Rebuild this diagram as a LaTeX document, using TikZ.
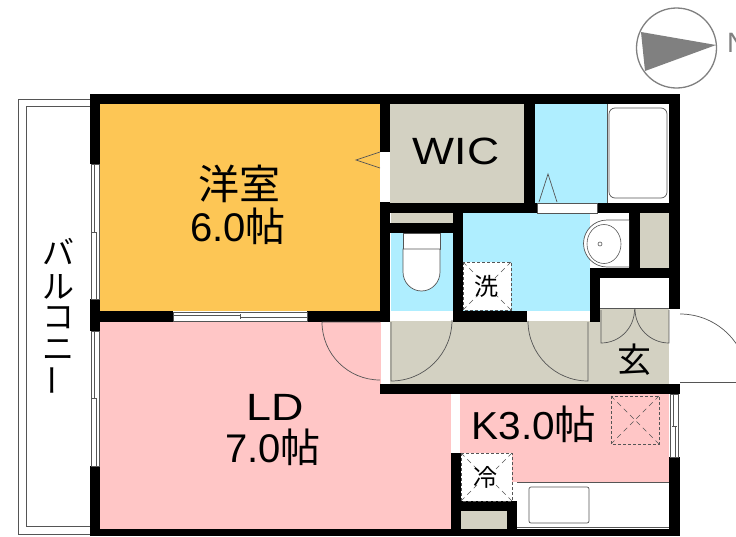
\documentclass[tikz,border=0pt]{standalone}
\usepackage{fontspec}
\setmainfont{Liberation Sans}
\newfontfamily\cjk{Noto Sans CJK JP}
\definecolor{yoshitsu}{HTML}{FDC655}
\definecolor{pinkroom}{HTML}{FFC6C6}
\definecolor{khaki}{HTML}{D3D1C2}
\definecolor{wet}{HTML}{AFEEFF}
\definecolor{linec}{HTML}{555555}
\tikzset{
  wall/.style={fill=black,draw=none},
  fixture/.style={draw=linec,line width=0.7pt,fill=white},
  doorline/.style={draw=linec,line width=0.7pt},
  thinline/.style={draw=linec,line width=0.6pt},
  dashbox/.style={draw=linec,line width=0.8pt,dash pattern=on 3pt off 2pt,fill=white},
  crossline/.style={draw=linec,line width=0.5pt,dash pattern=on 5pt off 4pt},
  txt/.style={inner sep=0pt,text=black,align=center},
}
\newcommand{\jpf}[1]{\cjk\fontsize{#1}{#1}\selectfont}
\newcommand{\enf}[1]{\fontsize{#1}{#1}\selectfont}
\begin{document}
\begin{tikzpicture}[x=1pt,y=-1pt]
\useasboundingbox (0,0) rectangle (736,536);
\clip (0,0) rectangle (736,536);
% balcony
\draw[thinline,fill=white] (90,99) -- (18,99) -- (18,534) -- (90,534);
\draw[thinline] (90,106) -- (26,106) -- (26,526) -- (90,526);
% rooms
\fill[yoshitsu] (100,104) rectangle (380,311);
\fill[pinkroom] (100,321) rectangle (381,384);
\fill[pinkroom] (100,384) rectangle (451,529);
\fill[pinkroom] (460,394) rectangle (669,482);
\fill[khaki] (390,104) rectangle (524,203);
\fill[wet] (535,104) rectangle (607,203);
\fill[khaki] (391,213) rectangle (453,223);
\fill[wet] (391,233) rectangle (453,311);
\fill[wet] (463,213) rectangle (590,311);
\fill[khaki] (640,213) rectangle (669,268);
\fill[khaki] (390,321) rectangle (600,384);
\fill[khaki] (600,309) rectangle (669,384);
\fill[khaki] (461,511) rectangle (507,529);
% walls
\fill[wall] (90,94) rectangle (680,104);
\fill[wall] (90,94) rectangle (100,164);
\fill[wall] (90,299) rectangle (100,331);
\fill[wall] (90,466) rectangle (100,536);
\fill[wall] (90,529) rectangle (680,536);
\fill[wall] (669,94) rectangle (680,309);
\fill[wall] (669,457) rectangle (680,536);
\fill[wall] (380,94) rectangle (390,152);
\fill[wall] (380,202) rectangle (390,322);
\fill[wall] (100,311) rectangle (173,322);
\fill[wall] (307,311) rectangle (390,322);
\fill[wall] (524,94) rectangle (535,203);
\fill[wall] (380,203) rectangle (537,213);
\fill[wall] (597,203) rectangle (680,213);
\fill[wall] (380,223) rectangle (453,233);
\fill[wall] (453,203) rectangle (463,322);
\fill[wall] (453,311) rectangle (527,322);
\fill[wall] (629,203) rectangle (640,278);
\fill[wall] (590,268) rectangle (680,278);
\fill[wall] (590,268) rectangle (600,322);
\fill[wall] (380,384) rectangle (680,394);
\fill[wall] (451,453) rectangle (461,536);
\fill[wall] (451,501) rectangle (517,511);
\fill[wall] (507,501) rectangle (517,536);
% windows and openings
\draw[thinline,fill=white] (91,164) rectangle (99,299);
\draw[thinline] (94,164) -- (94,232) (96,232) -- (96,299);
\draw[thinline] (92,232) -- (97,232);
\draw[thinline,fill=white] (91,331) rectangle (99,466);
\draw[thinline] (94,331) -- (94,398) (96,398) -- (96,466);
\draw[thinline] (92,398) -- (97,398);
\draw[thinline,fill=white] (173,312) rectangle (307,321);
\draw[thinline] (173,315) -- (240,315) (240,317) -- (307,317);
\draw[thinline] (240,314) -- (240,319);
\fill[white] (381,152) rectangle (389,202);
\fill[white] (537,203) rectangle (597,213);
\draw[thinline] (537,203) rectangle (597,213);
\fill[white] (391,311) rectangle (453,321);
\fill[white] (527,311) rectangle (590,321);
\fill[white] (381,322) rectangle (390,383);
\fill[white] (451,394) rectangle (460,453);
\fill[white] (670,312) rectangle (679,383);
\draw[thinline,fill=white] (670,394) rectangle (678,457);
\draw[thinline] (673,394) -- (673,426) (675,426) -- (675,457);
\draw[thinline] (672,426) -- (677,426);
% bath
\fill[white] (607,104) rectangle (669,203);
\draw[thinline] (607,104) -- (607,203);
\draw[fixture,rounded corners=6pt] (609,108) rectangle (667,198);
% door triangle bath
\draw[doorline] (539,202) -- (548,174) -- (557,202);
% yoshitsu door triangle
\draw[doorline] (380,152) -- (356,160) -- (380,168);
% toilet
\draw[fixture] (403,233) rectangle (440,249);
\draw[fixture] (403,249) -- (403,272) arc[start angle=180,end angle=0,x radius=18.5,y radius=19] -- (440,249) -- cycle;
% wash sink
\fill[white] (607,220) rectangle (629,267);
\draw[fixture] (629,220) -- (607,220) arc[start angle=270,end angle=90,radius=23.5] -- (629,267);
\draw[thinline,fill=white] (604,244) ellipse[x radius=17,y radius=19.5];
\draw[thinline] (600,244) circle[radius=2];
% washer pan
\draw[dashbox] (463,262) rectangle (511,310);
\draw[crossline] (463,262) -- (479,278) (511,262) -- (495,278) (463,310) -- (479,294) (511,310) -- (495,294);
% shoe cabinet
\fill[white] (600,278) rectangle (669,309);
\draw[thinline] (600,308) -- (669,308);
% doors
\draw[doorline] (391,322) -- (391,381) arc[start angle=90,end angle=0,radius=61];
\draw[doorline] (380,322) -- (322,322) arc[start angle=180,end angle=90,radius=58];
\draw[doorline] (588,322) -- (588,381) arc[start angle=90,end angle=180,radius=60];
\draw[doorline] (601,310) -- (601,343) arc[start angle=90,end angle=0,radius=33.5];
\draw[doorline] (669,310) -- (669,343) arc[start angle=90,end angle=180,radius=34];
\draw[doorline] (680,314) arc[start angle=-90,end angle=0,radius=68];
\draw[doorline] (680,382) -- (736,382);
% fridge
\draw[dashbox] (461,453) rectangle (512,501);
\draw[crossline] (461,453) -- (477,469) (512,453) -- (496,469) (461,501) -- (477,485) (512,501) -- (496,485);
% range
\draw[crossline,dash pattern=on 3pt off 2pt,line width=0.8pt] (611,396) rectangle (659,444);
\draw[crossline] (611,396) -- (659,444) (659,396) -- (611,444);
% kitchen counter
\fill[white] (517,482) rectangle (669,529);
\draw[thinline] (517,482) -- (669,482) (517,527) -- (669,527);
\draw[fixture,rounded corners=2pt] (529,487) rectangle (589,523);
% compass
\draw[draw=gray,line width=1.3pt,fill=white] (676.5,48) circle[radius=40];
\fill[gray] (641,32) -- (716,45) -- (645,71) -- cycle;
\node[txt,text=gray,anchor=west,font=\enf{28}] (north) at (727,43) {N};
% labels
\node[txt,font=\jpf{41}] (l1) at (239,184) {洋室};
\node[txt,font=\enf{40}] (l2) at (238,226) {6.0{\jpf{40}帖}};
\node[txt,font=\enf{38},xscale=1.18] (l3) at (275,407) {LD};
\node[txt,font=\enf{40}] (l4) at (273,447) {7.0{\jpf{40}帖}};
\node[txt,font=\enf{38},xscale=1.17] (l5) at (456,151) {WIC};
\node[txt,font=\enf{39},xscale=1.04] (l6) at (534,424) {K3.0{\jpf{40}帖}};
\node[txt,font=\jpf{24}] (l7) at (486,286) {洗};
\node[txt,font=\jpf{24}] (l8) at (485,477) {冷};
\node[txt,font=\jpf{34}] (l9) at (634,360) {玄};
\node[txt,font=\jpf{32}] (b1) at (58,252) {バ};
\node[txt,font=\jpf{32}] (b2) at (58,287) {ル};
\node[txt,font=\jpf{32}] (b3) at (58,318) {コ};
\node[txt,font=\jpf{32}] (b4) at (58,350) {ニ};
\node[txt,font=\jpf{32},rotate=90] (b5) at (58,380) {ー};
\end{tikzpicture}
\end{document}
